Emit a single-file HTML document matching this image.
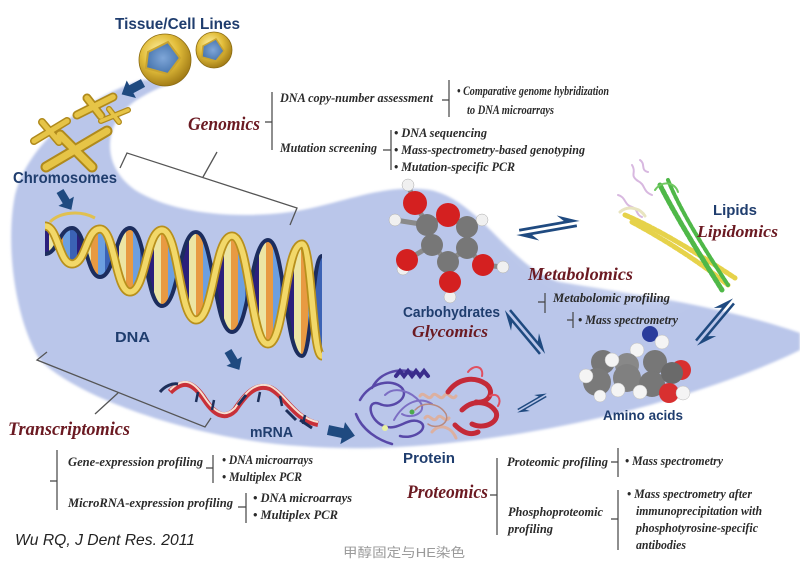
<!DOCTYPE html>
<html><head><meta charset="utf-8"><style>
html,body{margin:0;padding:0;background:#fff;}
svg{display:block;}
.nv{font-family:"Liberation Sans",Arial,sans-serif;font-weight:bold;fill:#1f3d6e;}
.rd{font-family:"Liberation Serif","Times New Roman",serif;font-weight:bold;font-style:italic;fill:#6b1a22;}
.sb{font-family:"Liberation Serif","Times New Roman",serif;font-weight:bold;font-style:italic;fill:#2a2a2a;font-size:12.5px;}
.br{stroke:#444;stroke-width:1.2;fill:none;}
.gl{stroke:#555;stroke-width:1.3;fill:none;}
</style></head><body>
<svg width="800" height="575" viewBox="0 0 800 575" xmlns="http://www.w3.org/2000/svg">
<defs>
<radialGradient id="gold" cx="0.4" cy="0.35" r="0.7">
<stop offset="0" stop-color="#fff3a8"/><stop offset="0.5" stop-color="#e2bd3a"/><stop offset="1" stop-color="#9a7412"/>
</radialGradient>
<radialGradient id="nuc" cx="0.5" cy="0.5" r="0.6">
<stop offset="0" stop-color="#7fa6d8"/><stop offset="1" stop-color="#3f6ea8"/>
</radialGradient>
<pattern id="bp" width="35" height="400" patternUnits="userSpaceOnUse">
<rect x="0" y="0" width="7" height="400" fill="#3b62b5"/>
<rect x="7" y="0" width="7" height="400" fill="#2b1f7c"/>
<rect x="14" y="0" width="7" height="400" fill="#ece5a4"/>
<rect x="21" y="0" width="7" height="400" fill="#e89a42"/>
<rect x="28" y="0" width="7" height="400" fill="#6c9fe0"/>
</pattern>
<filter id="soft" x="-20%" y="-20%" width="140%" height="140%"><feGaussianBlur stdDeviation="1.2"/></filter>
<filter id="vsoft" x="-50%" y="-50%" width="200%" height="200%"><feGaussianBlur stdDeviation="14"/></filter>
<polygon id="barr" points="0,-4 12,-4 12,-9 22,0 12,9 12,4 0,4" fill="#1f4a80"/>
<g id="eq" fill="#1f4a80">
<polygon points="-24,-3.5 14,-3.5 9,-9 27,-1.2 -24,-1.2"/>
<polygon points="24,3.5 -14,3.5 -9,9 -27,1.2 24,1.2"/>
</g>
</defs>

<!-- band -->
<path filter="url(#soft)" fill="#bac6ea" d="M142,80 C100,92 30,135 15,195 C5,245 15,320 40,360 C80,400 200,440 300,446 C420,456 560,430 650,405 C720,385 770,365 800,350 L800,333 C720,305 620,292 560,282 C510,268 480,200 430,190 C380,183 340,205 290,212 C230,220 170,212 135,190 C100,165 105,125 130,105 C145,93 165,85 185,78 Z"/>
<ellipse cx="600" cy="235" rx="90" ry="40" transform="rotate(25 600 235)" fill="#fff" filter="url(#vsoft)" opacity="0.9"/>

<!-- cells -->
<circle cx="165" cy="60" r="26" fill="url(#gold)" stroke="#8a6a10" stroke-width="0.8"/>
<path d="M148,52 L168,42 L180,58 L168,74 L146,68 Z" fill="url(#nuc)" stroke="#c9a430" stroke-width="2"/>
<circle cx="214" cy="50" r="18" fill="url(#gold)" stroke="#8a6a10" stroke-width="0.8"/>
<path d="M203,46 L216,39 L224,51 L216,61 L202,57 Z" fill="url(#nuc)" stroke="#c9a430" stroke-width="1.5"/>
<text class="nv" x="115" y="29" font-size="16" textLength="125" lengthAdjust="spacingAndGlyphs">Tissue/Cell Lines</text>

<!-- arrows -->
<use href="#barr" transform="translate(143,83) rotate(152) scale(1.1)"/>
<use href="#barr" transform="translate(60,191) rotate(59)"/>
<use href="#barr" transform="translate(228,351) rotate(59)"/>
<use href="#barr" transform="translate(328,430) rotate(12) scale(1.25)"/>

<!-- chromosomes -->
<g stroke="#b08a1c" stroke-linecap="round" fill="none">
<g stroke-width="9"><path d="M77,115 L113,97"/><path d="M87,98 L101,116"/></g>
<g stroke-width="6"><path d="M101,121 L128,110"/><path d="M109,109 L119,122"/></g>
<g stroke-width="8"><path d="M34,141 L67,121"/><path d="M42,122 L59,142"/></g>
<g stroke-width="11"><path d="M46,167 L107,131"/><path d="M60,135 L92,167"/></g>
</g>
<g stroke="#e6c447" stroke-linecap="round" fill="none">
<g stroke-width="5.5"><path d="M77,115 L113,97"/><path d="M87,98 L101,116"/></g>
<g stroke-width="3.5"><path d="M101,121 L128,110"/><path d="M109,109 L119,122"/></g>
<g stroke-width="5"><path d="M34,141 L67,121"/><path d="M42,122 L59,142"/></g>
<g stroke-width="7"><path d="M46,167 L107,131"/><path d="M60,135 L92,167"/></g>
</g>
<text class="nv" x="13" y="183" font-size="16" textLength="104" lengthAdjust="spacingAndGlyphs">Chromosomes</text>

<!-- DNA -->
<path fill="url(#bp)" fill-rule="evenodd" d="M45,226 C58,226 59,264 72,264 C86,264 86,229 100,229 C115,229 115,292 130,292 C146,292 146,230 162,230 C179,230 179,320 196,320 C214,320 214,236 232,236 C250,236 250,344 268,344 C285,344 285,244 302,244 C312,244 312,356 322,356 L322,256 C312,256 312,356 302,356 C285,356 285,240 268,240 C250,240 250,332 232,332 C214,332 214,232 196,232 C179,232 179,306 162,306 C146,306 146,228 130,228 C115,228 115,277 100,277 C86,277 86,228 72,228 C59,228 58,254 45,254 Z"/>
<path fill="none" stroke="#1c2d5e" stroke-width="4" d="M45,254 C58,254 59,228 72,228 C86,228 86,277 100,277 C115,277 115,228 130,228 C146,228 146,306 162,306 C179,306 179,232 196,232 C214,232 214,332 232,332 C250,332 250,240 268,240 C285,240 285,356 302,356 C312,356 312,256 322,256"/>
<path fill="none" stroke="#b8901c" stroke-width="9" d="M45,226 C58,226 59,264 72,264 C86,264 86,229 100,229 C115,229 115,292 130,292 C146,292 146,230 162,230 C179,230 179,320 196,320 C214,320 214,236 232,236 C250,236 250,344 268,344 C285,344 285,244 302,244 C312,244 312,356 322,356"/>
<path fill="none" stroke="#f2d869" stroke-width="5.5" d="M45,226 C58,226 59,264 72,264 C86,264 86,229 100,229 C115,229 115,292 130,292 C146,292 146,230 162,230 C179,230 179,320 196,320 C214,320 214,236 232,236 C250,236 250,344 268,344 C285,344 285,244 302,244 C312,244 312,356 322,356"/>
<path fill="none" stroke="#e0c050" stroke-width="3" d="M50,222 C60,212 80,210 95,218"/>
<text class="nv" x="115" y="342" font-size="15" textLength="35" lengthAdjust="spacingAndGlyphs">DNA</text>

<!-- mRNA -->
<path fill="none" stroke="#c83038" stroke-width="6" d="M170,392 C182,380 192,380 205,400 C215,415 225,420 235,410 C245,395 255,383 270,388 C285,395 295,420 318,424"/>
<path fill="none" stroke="#f6e0d0" stroke-width="2" d="M170,390 C182,378 192,378 205,398 C215,413 225,418 235,408 C245,393 255,381 270,386 C285,393 295,418 318,422"/>
<path fill="none" stroke="#1d2f5a" stroke-width="3" d="M160,392 C165,386 172,383 178,384 M238,405 L246,395 M286,410 L296,420 M300,420 L312,428"/>
<g stroke="#1d2f5a" stroke-width="2.5"><path d="M198,392 L196,402"/><path d="M212,410 L214,400"/><path d="M260,392 L258,402"/><path d="M280,396 L282,406"/><path d="M305,415 L303,424"/></g>
<text class="nv" x="250" y="437" font-size="14.5" textLength="43" lengthAdjust="spacingAndGlyphs">mRNA</text>

<!-- protein -->
<g fill="none" stroke-linecap="round">
<path stroke="#5848a8" stroke-width="2.5" d="M360,400 C370,382 392,378 402,388 C410,398 392,410 380,404 C366,398 368,420 384,426 C398,432 408,416 420,422 C430,428 414,440 400,436 M372,388 C380,372 398,368 412,372 M356,414 C362,430 378,440 392,444"/>
<path stroke="#3a2c8c" stroke-width="4" d="M396,376 l4,-5 l4,5 l4,-5 l4,5 l4,-5 l4,5 l4,-5 l4,5"/>
<path stroke="#7c6ec4" stroke-width="2" d="M385,395 C395,385 412,392 420,402 C428,412 412,420 402,414 M394,420 C404,402 420,396 432,404"/>
<path stroke="#dcb0a0" stroke-width="3" d="M420,396 c4,-6 8,6 12,0 c4,-6 8,6 12,0 c4,-6 8,6 12,0 M425,418 c4,-6 8,6 12,0 c4,-6 8,6 12,0 M432,432 C440,422 452,428 456,438"/>
<path stroke="#b98a80" stroke-width="1.5" d="M415,410 C425,400 440,404 446,414 C450,424 436,430 428,424"/>
<path stroke="#c42a38" stroke-width="5" d="M448,392 C458,378 474,376 486,384 C496,392 488,404 476,402 M462,410 C474,398 490,402 496,412 C500,422 484,430 472,424 M455,425 C462,432 470,436 478,432"/>
<path stroke="#e05060" stroke-width="2" d="M468,372 C474,364 484,366 482,376 M490,396 C498,392 502,400 498,406"/>
</g>
<circle cx="385" cy="428" r="3" fill="#e8f0a0"/><circle cx="412" cy="412" r="2.5" fill="#4caa4c"/>
<text class="nv" x="403" y="463" font-size="14.5" textLength="52" lengthAdjust="spacingAndGlyphs">Protein</text>

<!-- carbohydrate molecule -->
<g stroke="#8a8a8a" stroke-width="5" stroke-linecap="round" fill="none">
<path fill="none" d="M415,203 L427,225 L448,215 L467,227 L467,248 L448,262 L432,245 L427,225 M432,245 L407,260 M448,262 L450,282 M467,248 L483,265 M415,203 L408,185 M427,225 L395,220 M467,227 L482,220 M450,282 L450,295 M483,265 L503,267 M407,260 L403,267"/>
</g>
<g>
<circle cx="408" cy="185" r="6" fill="#f0f0f0" stroke="#aaa" stroke-width="0.5"/>
<circle cx="395" cy="220" r="6" fill="#f0f0f0" stroke="#aaa" stroke-width="0.5"/>
<circle cx="482" cy="220" r="6" fill="#f0f0f0" stroke="#aaa" stroke-width="0.5"/>
<circle cx="403" cy="269" r="6" fill="#f0f0f0" stroke="#aaa" stroke-width="0.5"/>
<circle cx="503" cy="267" r="6" fill="#f0f0f0" stroke="#aaa" stroke-width="0.5"/>
<circle cx="450" cy="297" r="6" fill="#f0f0f0" stroke="#aaa" stroke-width="0.5"/>
<circle cx="415" cy="203" r="12" fill="#d42020"/>
<circle cx="448" cy="215" r="12" fill="#d42020"/>
<circle cx="427" cy="225" r="11" fill="#777"/>
<circle cx="467" cy="227" r="11" fill="#777"/>
<circle cx="432" cy="245" r="11" fill="#777"/>
<circle cx="467" cy="248" r="11" fill="#777"/>
<circle cx="448" cy="262" r="11" fill="#777"/>
<circle cx="407" cy="260" r="11" fill="#d42020"/>
<circle cx="483" cy="265" r="11" fill="#d42020"/>
<circle cx="450" cy="282" r="11" fill="#d42020"/>
</g>
<text class="nv" x="403" y="317" font-size="14.5" textLength="97" lengthAdjust="spacingAndGlyphs">Carbohydrates</text>
<text class="rd" x="412" y="337" font-size="17" textLength="76" lengthAdjust="spacingAndGlyphs">Glycomics</text>

<!-- amino acid molecule -->
<g>
<circle cx="650" cy="334" r="8" fill="#2a3c9c"/>
<circle cx="662" cy="342" r="7" fill="#f4f4f4" stroke="#bbb" stroke-width="0.5"/>
<circle cx="637" cy="350" r="7" fill="#f4f4f4" stroke="#bbb" stroke-width="0.5"/>
<circle cx="603" cy="362" r="12" fill="#777"/>
<circle cx="627" cy="365" r="12" fill="#888"/>
<circle cx="655" cy="362" r="12" fill="#777"/>
<circle cx="681" cy="370" r="10" fill="#d83030"/>
<circle cx="597" cy="382" r="14" fill="#7a7a7a"/>
<circle cx="627" cy="378" r="14" fill="#808080"/>
<circle cx="652" cy="384" r="13" fill="#777"/>
<circle cx="672" cy="373" r="11" fill="#6a6a6a"/>
<circle cx="669" cy="393" r="10" fill="#d83030"/>
<circle cx="683" cy="393" r="7" fill="#f4f4f4" stroke="#bbb" stroke-width="0.5"/>
<circle cx="586" cy="376" r="7" fill="#f4f4f4" stroke="#bbb" stroke-width="0.5"/>
<circle cx="612" cy="360" r="7" fill="#f4f4f4" stroke="#bbb" stroke-width="0.5"/>
<circle cx="618" cy="390" r="7" fill="#f4f4f4" stroke="#bbb" stroke-width="0.5"/>
<circle cx="640" cy="392" r="7" fill="#f4f4f4" stroke="#bbb" stroke-width="0.5"/>
<circle cx="600" cy="396" r="6" fill="#f4f4f4" stroke="#bbb" stroke-width="0.5"/>
</g>
<text class="nv" x="603" y="420" font-size="14" textLength="80" lengthAdjust="spacingAndGlyphs">Amino acids</text>

<!-- lipids -->
<g fill="none" stroke-linecap="round">
<path stroke="#e6d24a" stroke-width="5" stroke-dasharray="4 2" d="M625,215 C660,230 700,255 735,278"/>
<path stroke="#e6d24a" stroke-width="5" stroke-dasharray="4 2" d="M632,222 C665,240 700,262 728,285"/>
<path stroke="#4fb848" stroke-width="5" stroke-dasharray="4 2" d="M660,185 C675,215 700,255 722,290"/>
<path stroke="#4fb848" stroke-width="4" stroke-dasharray="4 2" d="M668,180 C680,210 705,250 728,285"/>
<path stroke="#d8b8e0" stroke-width="2" d="M632,165 c5,8 -3,10 6,16 c8,4 4,10 14,14 M618,195 c8,2 6,10 14,12 c6,2 4,8 10,10 M640,160 c6,4 0,10 8,12"/>
<path stroke="#e8e4c0" stroke-width="3" d="M620,212 C628,205 640,208 645,216"/>
<path stroke="#6fc860" stroke-width="2" d="M655,190 C662,180 675,182 678,192"/>
</g>
<text class="nv" x="713" y="215" font-size="15" textLength="44" lengthAdjust="spacingAndGlyphs">Lipids</text>
<text class="rd" x="697" y="237" font-size="17" textLength="81" lengthAdjust="spacingAndGlyphs">Lipidomics</text>

<!-- equilibrium arrows -->
<use href="#eq" transform="translate(548,228) rotate(-10) scale(1.2)"/>
<use href="#eq" transform="translate(525,332) rotate(50) scale(1.1)"/>
<use href="#eq" transform="translate(715,322) rotate(-50) scale(1.1)"/>
<use href="#eq" transform="translate(532,403) rotate(-30) scale(0.65)"/>

<!-- metabolomics -->
<text class="rd" x="528" y="280" font-size="18" textLength="105" lengthAdjust="spacingAndGlyphs">Metabolomics</text>
<path class="br" d="M545,293 L545,313 M538,302 L545,302"/>
<text class="sb" x="553" y="302" textLength="117" lengthAdjust="spacingAndGlyphs">Metabolomic profiling</text>
<path class="br" d="M573,312 L573,328 M567,320 L573,320"/>
<text class="sb" x="578" y="324" textLength="100" lengthAdjust="spacingAndGlyphs">• Mass spectrometry</text>

<!-- genomics -->
<path class="gl" d="M120,168 L127,153 L297,208 L290,225 M203,177 L217,152"/>
<text class="rd" x="188" y="130" font-size="19" textLength="72" lengthAdjust="spacingAndGlyphs">Genomics</text>
<path class="br" d="M272,92 L272,150 M265,122 L272,122"/>
<text class="sb" x="280" y="102" textLength="153" lengthAdjust="spacingAndGlyphs">DNA copy-number assessment</text>
<path class="br" d="M449,80 L449,117 M442,100 L449,100"/>
<text class="sb" x="457" y="95" textLength="152" lengthAdjust="spacingAndGlyphs">• Comparative genome hybridization</text>
<text class="sb" x="467" y="114" textLength="87" lengthAdjust="spacingAndGlyphs">to DNA microarrays</text>
<text class="sb" x="280" y="152" textLength="97" lengthAdjust="spacingAndGlyphs">Mutation screening</text>
<path class="br" d="M391,130 L391,170 M383,150 L391,150"/>
<text class="sb" x="394" y="137" textLength="93" lengthAdjust="spacingAndGlyphs">• DNA sequencing</text>
<text class="sb" x="394" y="154" textLength="191" lengthAdjust="spacingAndGlyphs">• Mass-spectrometry-based genotyping</text>
<text class="sb" x="394" y="171" textLength="121" lengthAdjust="spacingAndGlyphs">• Mutation-specific PCR</text>

<!-- transcriptomics -->
<path class="gl" d="M47,352 L37,360 L205,427 L211,418 M118,393 L95,414"/>
<text class="rd" x="8" y="435" font-size="19" textLength="122" lengthAdjust="spacingAndGlyphs">Transcriptomics</text>
<path class="br" d="M57,450 L57,510 M50,481 L57,481"/>
<text class="sb" x="68" y="466" textLength="135" lengthAdjust="spacingAndGlyphs">Gene-expression profiling</text>
<path class="br" d="M213,455 L213,483 M206,468 L213,468"/>
<text class="sb" x="222" y="464" textLength="91" lengthAdjust="spacingAndGlyphs">• DNA microarrays</text>
<text class="sb" x="222" y="481" textLength="80" lengthAdjust="spacingAndGlyphs">• Multiplex PCR</text>
<text class="sb" x="68" y="507" textLength="165" lengthAdjust="spacingAndGlyphs">MicroRNA-expression profiling</text>
<path class="br" d="M246,493 L246,523 M238,507 L246,507"/>
<text class="sb" x="253" y="502" font-size="13.5" textLength="99" lengthAdjust="spacingAndGlyphs">• DNA microarrays</text>
<text class="sb" x="253" y="519" font-size="13.5" textLength="85" lengthAdjust="spacingAndGlyphs">• Multiplex PCR</text>

<!-- proteomics -->
<text class="rd" x="407" y="498" font-size="19" textLength="81" lengthAdjust="spacingAndGlyphs">Proteomics</text>
<path class="br" d="M497,458 L497,535 M490,495 L497,495"/>
<text class="sb" x="507" y="466" textLength="101" lengthAdjust="spacingAndGlyphs">Proteomic profiling</text>
<path class="br" d="M618,448 L618,477 M611,462 L618,462"/>
<text class="sb" x="625" y="465" textLength="98" lengthAdjust="spacingAndGlyphs">• Mass spectrometry</text>
<text class="sb" x="508" y="516" textLength="95" lengthAdjust="spacingAndGlyphs">Phosphoproteomic</text>
<text class="sb" x="508" y="533" textLength="45" lengthAdjust="spacingAndGlyphs">profiling</text>
<path class="br" d="M618,490 L618,550 M611,519 L618,519"/>
<text class="sb" x="627" y="498" textLength="125" lengthAdjust="spacingAndGlyphs">• Mass spectrometry after</text>
<text class="sb" x="636" y="515" textLength="126" lengthAdjust="spacingAndGlyphs">immunoprecipitation with</text>
<text class="sb" x="636" y="532" textLength="122" lengthAdjust="spacingAndGlyphs">phosphotyrosine-specific</text>
<text class="sb" x="636" y="549" textLength="50" lengthAdjust="spacingAndGlyphs">antibodies</text>

<!-- citation & watermark -->
<text x="15" y="545" font-family="'Liberation Sans',Arial,sans-serif" font-style="italic" font-size="16" fill="#222" textLength="180" lengthAdjust="spacingAndGlyphs">Wu RQ, J Dent Res. 2011</text>
<text x="343" y="557" font-family="'Liberation Sans','Noto Sans CJK SC',sans-serif" font-size="13" fill="#9a9a9a" textLength="122" lengthAdjust="spacingAndGlyphs">甲醇固定与HE染色</text>
</svg>
</body></html>
